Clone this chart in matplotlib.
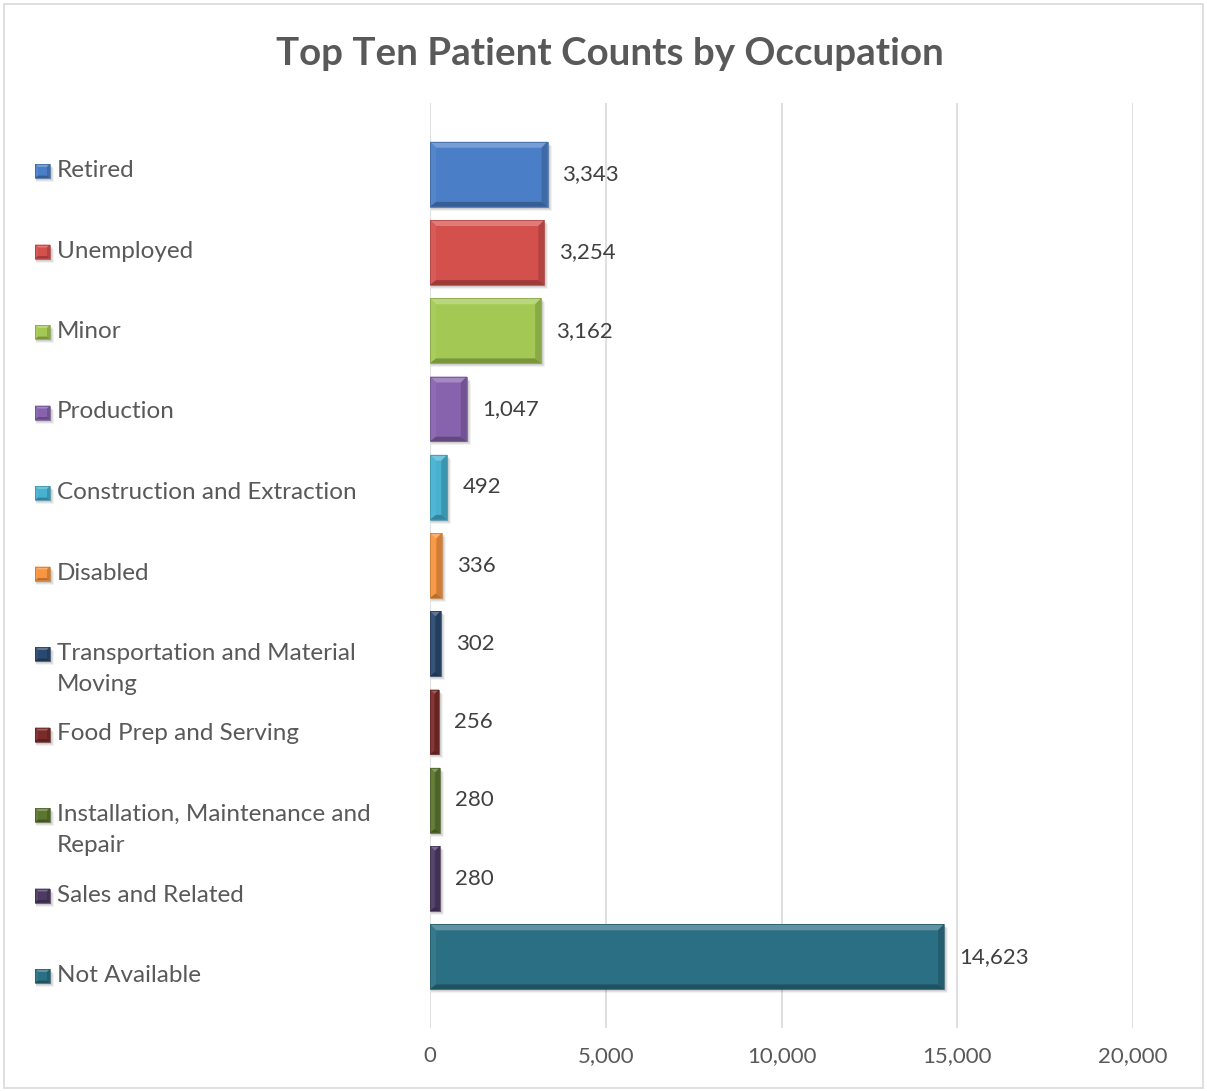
import numpy as np
import matplotlib
matplotlib.use("Agg")
import matplotlib.pyplot as plt
from matplotlib.patches import Polygon, Rectangle
from matplotlib.transforms import IdentityTransform
from matplotlib.colors import to_rgb

occupations = ["Retired", "Unemployed", "Minor", "Production",
               "Construction and Extraction", "Disabled",
               "Transportation and Material\nMoving", "Food Prep and Serving",
               "Installation, Maintenance and\nRepair", "Sales and Related",
               "Not Available"]
patients = [3343, 3254, 3162, 1047, 492, 336, 302, 256, 280, 280, 14623]
colors = ["#4a7ec7", "#d4504d", "#a3c954", "#8763ae", "#46b1d0", "#f79540",
          "#2a496f", "#7a2b29", "#5b7630", "#4c3a63", "#2a6f83"]
x_ticks = [0, 5000, 10000, 15000, 20000]

W, H = 1207, 1091
TXT = "#595959"
GRID = "#d9d9d9"
FONT = ["Lato", "DejaVu Sans"]
plt.rcParams["font.family"] = FONT


def fx(px):
    return px / W


def fy(py):
    return 1 - py / H


def shade(c, amt):
    # amt > 0 mixes toward white, amt < 0 toward black
    r = np.array(to_rgb(c))
    if amt >= 0:
        return tuple(r + (1 - r) * amt)
    return tuple(r * (1 + amt))


def bevel(fig, x0, y0, x1, y1, c, b=6):
    """Draw a bevelled block in display pixels (y up)."""
    w, h = x1 - x0, y1 - y0
    b = min(b, w / 2.2, h / 2.2)
    tr = IdentityTransform()
    # soft shadow
    for k, a in [(4, 0.05), (3, 0.07), (2, 0.08)]:
        fig.add_artist(Rectangle((x0 + 1, y0 - k), w + k - 1, h, transform=tr,
                                 facecolor="black", alpha=a, lw=0, zorder=1))
    fig.add_artist(Rectangle((x0, y0), w, h, transform=tr, facecolor=c,
                             lw=0, zorder=2))
    ix0, iy0, ix1, iy1 = x0 + b, y0 + b * 0.8, x1 - b, y1 - b
    faces = [
        ([(x0, y1), (x1, y1), (ix1, iy1), (ix0, iy1)], 0.25),   # top
        ([(x0, y0), (x0, y1), (ix0, iy1), (ix0, iy0)], 0.06),   # left
        ([(x1, y0), (x1, y1), (ix1, iy1), (ix1, iy0)], -0.16),  # right
        ([(x0, y0), (x1, y0), (ix1, iy0), (ix0, iy0)], -0.26),  # bottom
    ]
    for pts, amt in faces:
        fig.add_artist(Polygon(pts, closed=True, transform=tr,
                               facecolor=shade(c, amt), lw=0, zorder=3))
    fig.add_artist(Rectangle((x0, y0), w, h, transform=tr, facecolor="none",
                             edgecolor=shade(c, -0.2), lw=0.5, zorder=4))


fig = plt.figure(figsize=(W / 100, H / 100), dpi=100)
fig.patch.set_facecolor("white")

ax = fig.add_axes([fx(430), fy(1028), fx(1133) - fx(430), fy(103) - fy(1028)])
ypos = np.arange(len(occupations))
bars = ax.barh(ypos, patients, height=0.83, color="none", zorder=2)
ax.set_xlim(0, 20000)
ax.set_ylim(10.91, -0.91)
ax.set_xticks(x_ticks)
ax.set_xticklabels([f"{t:,}" for t in x_ticks], color=TXT, fontsize=16)
ax.tick_params(axis="x", length=0, pad=13)
ax.set_yticks([])
ax.xaxis.grid(True, color=GRID, lw=1.2)
ax.set_axisbelow(True)
for s in ax.spines.values():
    s.set_visible(False)

# bevelled bars in pixel space, taken from the bar geometry
for rect, val, c in zip(bars, patients, colors):
    (x0, y0), (x1, y1) = ax.transData.transform(
        [(rect.get_x(), rect.get_y() + rect.get_height()),
         (rect.get_x() + rect.get_width(), rect.get_y())])
    bevel(fig, x0, y0, x1, y1, c)
    ax.annotate(f"{val:,}", (val, rect.get_y() + rect.get_height() / 2),
                xytext=(15, 0), textcoords="offset pixels",
                va="center", ha="left", fontsize=16, color="#404040")

# legend down the left side
for i, (name, c) in enumerate(zip(occupations, colors)):
    yc = 170 + i * 80.5
    bevel(fig, 35, H - (yc + 8), 50, H - (yc - 6), c, b=3)
    fig.text(fx(57), fy(yc - 10), name, ha="left", va="top", fontsize=17.5,
             color=TXT, linespacing=1.6)

fig.text(fx(610), fy(54), "Top Ten Patient Counts by Occupation", ha="center",
         va="center", fontsize=27.7, fontweight="bold", color=TXT)

fig.add_artist(Rectangle((fx(4), fy(1088)), fx(1203) - fx(4), fy(4) - fy(1088),
                         transform=fig.transFigure, facecolor="none",
                         edgecolor=GRID, lw=1.2))

fig.savefig("out.png", dpi=100)
